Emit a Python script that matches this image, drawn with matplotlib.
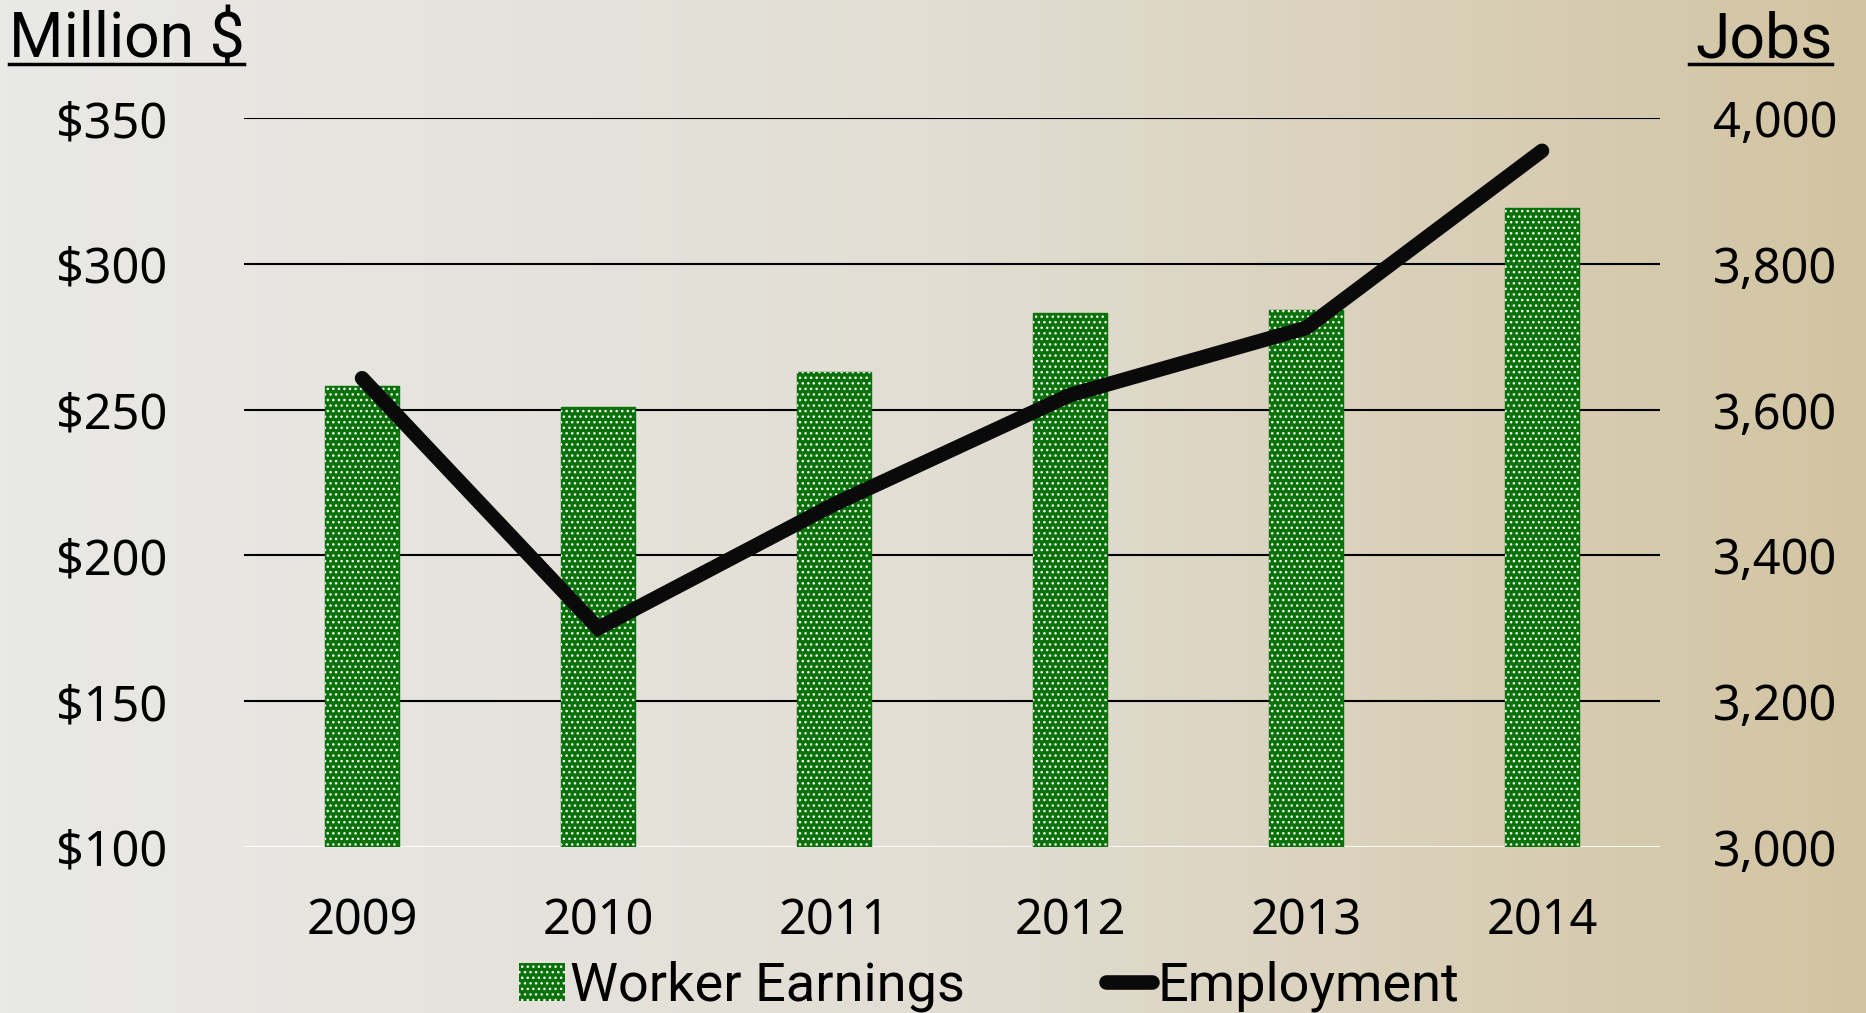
import numpy as np
import matplotlib.pyplot as plt
from matplotlib.colors import LinearSegmentedColormap
from matplotlib.patches import Patch
from matplotlib.lines import Line2D

years = ['2009', '2010', '2011', '2012', '2013', '2014']
earnings = [258, 251, 263, 283, 284, 319]       # million $
employment = [3643, 3300, 3470, 3620, 3712, 3955]  # jobs

plt.rcParams['hatch.linewidth'] = 1.0
tick_font = 'Noto Sans'
narrow = ['Roboto', 'DejaVu Sans']
green = '#087208'

fig = plt.figure(figsize=(18.66, 10.13), dpi=100)

# background gradient
bg = fig.add_axes([0, 0, 1, 1], zorder=-10)
cmap = LinearSegmentedColormap.from_list('bg', ['#e9e9e7', '#e2ded4', '#d2c4a2'])
bg.imshow(np.linspace(0, 1, 256)[None, :], aspect='auto', cmap=cmap, extent=[0, 1, 0, 1])
bg.axis('off')

ax = fig.add_axes([0.1308, 0.1639, 0.7588, 0.7196])
ax.patch.set_alpha(0)
x = np.arange(len(years))

ax.set_ylim(100, 350)
ax.set_xlim(-0.5, len(years) - 0.5)
ax.set_yticks([100, 150, 200, 250, 300, 350])
ax.set_yticklabels(['$%d' % v for v in [100, 150, 200, 250, 300, 350]])
for v in [150, 200, 250, 300, 350]:
    ax.axhline(v, color='black', lw=1.5, zorder=1)
ax.axhline(100, color='white', lw=2, zorder=1)

ax.bar(x, [e - 100 for e in earnings], bottom=100, width=0.31, color=green,
       edgecolor=green, lw=1, zorder=2)
ax.bar(x, [e - 100 for e in earnings], bottom=100, width=0.31, facecolor='none',
       edgecolor='white', hatch='...', lw=0, zorder=3)

ax.set_xticks(x)
ax.set_xticklabels(years)
for s in ax.spines.values():
    s.set_visible(False)
ax.tick_params(axis='x', length=0, pad=36, labelsize=35)
ax.tick_params(axis='y', length=0, pad=55, labelsize=35)
for lab in ax.get_xticklabels() + ax.get_yticklabels():
    lab.set_fontfamily(tick_font)

ax2 = ax.twinx()
ax2.set_ylim(3000, 4000)
ax2.set_yticks([3000, 3200, 3400, 3600, 3800, 4000])
ax2.set_yticklabels(['{:,}'.format(v) for v in [3000, 3200, 3400, 3600, 3800, 4000]])
ax2.plot(x, employment, color='#0a0a0a', lw=10.5, solid_capstyle='round',
         solid_joinstyle='miter', zorder=5)
for s in ax2.spines.values():
    s.set_visible(False)
ax2.tick_params(axis='y', length=0, pad=38, labelsize=35)
for lab in ax2.get_yticklabels():
    lab.set_fontfamily(tick_font)

# unit headers
fig.text(0.005, 0.943, 'Million $', family=narrow, fontsize=45, va='baseline', ha='left')
fig.add_artist(Line2D([0.005, 0.131], [0.937, 0.937], color='black', lw=2.5))
fig.text(0.982, 0.943, 'Jobs', family=narrow, fontsize=45, va='baseline', ha='right')
fig.add_artist(Line2D([0.905, 0.982], [0.937, 0.937], color='black', lw=2.5))

handles = [Patch(facecolor=green, edgecolor='white', hatch='...', lw=0),
           Line2D([], [], color='#0a0a0a', lw=10.5, solid_capstyle='round')]
fig.legend(handles, ['Worker Earnings', 'Employment'], loc='center', ncol=2,
           bbox_to_anchor=(0.53, 0.026), frameon=False, handlelength=0.85,
           handletextpad=0.1, columnspacing=2.6,
           prop={'family': narrow, 'size': 39})

fig.savefig('out.png', dpi=100)
